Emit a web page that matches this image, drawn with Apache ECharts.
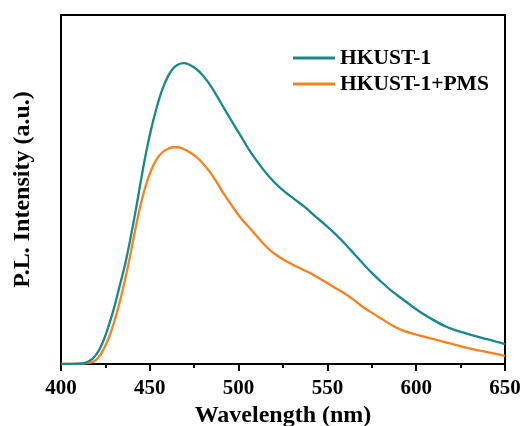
<!DOCTYPE html>
<html>
<head>
<meta charset="utf-8">
<script src="https://cdn.jsdelivr.net/npm/echarts@6/dist/echarts.min.js"></script>
<style>
  html, body { margin: 0; padding: 0; background: #fff; }
  #chart { width: 531px; height: 426px; }
</style>
</head>
<body>
<div id="chart"></div>
<script>
// Photoluminescence spectra: wavelength (nm) vs. normalised intensity
const seriesNames = ['HKUST-1', 'HKUST-1+PMS'];
const xTicks = [400, 450, 500, 550, 600, 650];

const hkustWavelength = [400, 405, 410, 414, 418, 421, 424, 427, 430, 433, 436, 439, 442, 445, 448, 451, 454, 457, 460, 463, 466, 469, 472, 476, 480, 484, 488, 492, 496, 501, 506, 512, 518, 524, 531, 537, 543, 549, 555, 560, 565, 570, 575, 580, 586, 592, 598, 604, 610, 616, 622, 628, 634, 640, 645, 650];
const hkustIntensity = [0, 0, 0.001, 0.004, 0.016, 0.036, 0.068, 0.112, 0.163, 0.223, 0.284, 0.357, 0.438, 0.526, 0.608, 0.678, 0.737, 0.786, 0.822, 0.846, 0.858, 0.862, 0.858, 0.846, 0.826, 0.799, 0.766, 0.731, 0.697, 0.655, 0.613, 0.570, 0.532, 0.502, 0.474, 0.451, 0.424, 0.398, 0.370, 0.344, 0.316, 0.288, 0.261, 0.237, 0.210, 0.187, 0.164, 0.143, 0.125, 0.109, 0.097, 0.088, 0.079, 0.071, 0.064, 0.057];

const pmsWavelength = [400, 405, 410, 414, 418, 421, 424, 427, 430, 433, 436, 439, 442, 445, 448, 451, 454, 457, 460, 463, 466, 469, 472, 476, 480, 484, 488, 492, 496, 501, 506, 512, 518, 524, 530, 536, 542, 548, 554, 559, 564, 569, 574, 580, 586, 592, 598, 604, 610, 616, 622, 628, 634, 640, 645, 650];
const pmsIntensity = [0, 0, 0.001, 0.002, 0.006, 0.018, 0.042, 0.076, 0.121, 0.176, 0.240, 0.312, 0.390, 0.460, 0.516, 0.558, 0.588, 0.606, 0.616, 0.621, 0.621, 0.616, 0.608, 0.594, 0.574, 0.549, 0.518, 0.485, 0.455, 0.420, 0.391, 0.356, 0.325, 0.303, 0.286, 0.271, 0.256, 0.238, 0.219, 0.204, 0.187, 0.167, 0.150, 0.131, 0.112, 0.097, 0.087, 0.079, 0.071, 0.063, 0.055, 0.047, 0.040, 0.034, 0.029, 0.023];

const pair = (xs, ys) => xs.map((x, i) => [x, ys[i]]);

const FONT = '"Liberation Serif", "Times New Roman", serif';
const chart = echarts.init(document.getElementById('chart'), null, { renderer: 'canvas' });

chart.setOption({
  animation: false,
  backgroundColor: '#ffffff',
  grid: {
    left: 61, right: 26, top: 15, bottom: 62,
    outerBoundsMode: 'none',
    containLabel: false,
    show: true, borderColor: '#000', borderWidth: 2, backgroundColor: 'transparent'
  },
  legend: {
    orient: 'vertical',
    left: 288, top: 42,
    itemGap: 4,
    icon: 'rect',
    itemWidth: 42, itemHeight: 3,
    textStyle: { fontFamily: FONT, fontWeight: 'bold', fontSize: 21.5, color: '#000' },
    data: seriesNames
  },
  xAxis: {
    type: 'value',
    min: xTicks[0], max: xTicks[xTicks.length - 1], interval: 50,
    name: 'Wavelength (nm)',
    nameLocation: 'middle', nameGap: 40,
    nameTextStyle: { fontFamily: FONT, fontWeight: 'bold', fontSize: 24, color: '#000' },
    axisLine: { show: true, lineStyle: { color: '#000', width: 2 } },
    axisTick: { show: true, inside: false, length: 7, lineStyle: { color: '#000', width: 2 } },
    minorTick: { show: true, splitNumber: 2, length: 4, lineStyle: { color: '#000', width: 2 } },
    axisLabel: { fontFamily: FONT, fontWeight: 'bold', fontSize: 21, color: '#000', margin: 14 },
    splitLine: { show: false }
  },
  yAxis: {
    type: 'value',
    min: 0, max: 1,
    name: 'P.L. Intensity (a.u.)',
    nameLocation: 'middle', nameGap: 26,
    nameTextStyle: { fontFamily: FONT, fontWeight: 'bold', fontSize: 24, color: '#000' },
    axisLine: { show: true, lineStyle: { color: '#000', width: 2 } },
    axisTick: { show: false },
    axisLabel: { show: false },
    splitLine: { show: false }
  },
  series: [
    {
      name: seriesNames[0], type: 'line', smooth: 0.3, showSymbol: false,
      data: pair(hkustWavelength, hkustIntensity),
      lineStyle: { color: '#17898b', width: 2.3 }, itemStyle: { color: '#17898b' }, z: 3
    },
    {
      name: seriesNames[1], type: 'line', smooth: 0.3, showSymbol: false,
      data: pair(pmsWavelength, pmsIntensity),
      lineStyle: { color: '#f7811f', width: 2.3 }, itemStyle: { color: '#f7811f' }, z: 2
    }
  ]
});
</script>
</body>
</html>
